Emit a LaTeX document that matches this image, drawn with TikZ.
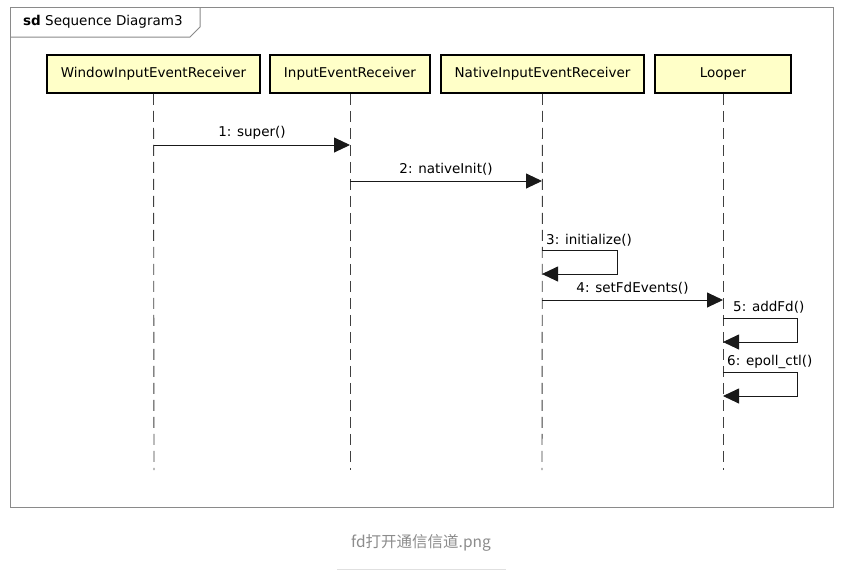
\documentclass[tikz,border=0pt]{standalone}
\usepackage{fontspec}
\setmainfont{DejaVu Sans}
\newfontfamily\cjkfont{Noto Sans CJK SC}
\usetikzlibrary{arrows.meta}
\definecolor{headfill}{HTML}{FFFFC8}
\definecolor{framegray}{HTML}{8A8A8A}
\definecolor{capgray}{HTML}{8C8C8C}
\begin{document}
\begin{tikzpicture}[x=1pt,y=-1pt,
  head/.style={draw=black,line width=1.6pt,fill=headfill,minimum height=38pt,inner sep=0pt,font=\fontsize{13.5}{15}\selectfont},
  lifeline/.style={draw=black!75,line width=0.9pt,dash pattern=on 11pt off 6pt},
  msg/.style={draw=black!90,line width=0.9pt,-{Triangle[length=16pt,width=15pt]}},
  lbl/.style={font=\fontsize{13.5}{15}\selectfont,inner sep=0pt}]
\useasboundingbox (0,0) rectangle (856,576);
\fill[white] (0,0) rectangle (856,576);
% frame
\node[draw=framegray,line width=1pt,minimum width=823pt,minimum height=500pt,anchor=north west,inner sep=0pt] (frame) at (10,7) {};
\draw[draw=framegray,line width=1pt] (10,37) -- (190,37) -- (200,27) -- (200,7);
\node[anchor=west,inner sep=0pt,font=\fontsize{13.5}{15}\selectfont] (title) at (23,22) {\textbf{sd} Sequence Diagram3};
% heads
\node[head,minimum width=213pt] (w) at (153.5,74) {WindowInputEventReceiver};
\node[head,minimum width=160pt] (i) at (350,74) {InputEventReceiver};
\node[head,minimum width=203pt] (n) at (542.5,74) {NativeInputEventReceiver};
\node[head,minimum width=136pt] (l) at (723,74) {Looper};
% lifeline ends
\coordinate (we) at (154,470);
\coordinate (ie) at (350,470);
\coordinate (ne) at (542,470);
\coordinate (le) at (723,470);
\draw[lifeline] (w.south) -- (we);
\draw[lifeline] (i.south) -- (ie);
\draw[lifeline] (n.south) -- (ne);
\draw[lifeline] (l.south) -- (le);
% messages
\coordinate (m1a) at (154,145); \coordinate (m1b) at (350,145);
\draw[msg] (m1a) -- node[lbl,above=5pt] (l1) {1: super()} (m1b);
\coordinate (m2a) at (350,181); \coordinate (m2b) at (542,181);
\draw[msg] (m2a) -- node[lbl,above=5pt] (l2) {2: nativeInit()} (m2b);
\coordinate (m3a) at (542,250); \coordinate (m3b) at (542,274);
\draw[msg] (m3a) -- (617,250) -- (617,274) -- (m3b);
\node[lbl,anchor=west] (l3) at (546,240) {3: initialize()};
\coordinate (m4a) at (542,300); \coordinate (m4b) at (723,300);
\draw[msg] (m4a) -- node[lbl,above=5pt] (l4) {4: setFdEvents()} (m4b);
\coordinate (m5a) at (723,318); \coordinate (m5b) at (723,342);
\draw[msg] (m5a) -- (797,318) -- (797,342) -- (m5b);
\node[lbl,anchor=west] (l5) at (733,307) {5: addFd()};
\coordinate (m6a) at (723,372); \coordinate (m6b) at (723,396);
\draw[msg] (m6a) -- (797,372) -- (797,396) -- (m6b);
\node[lbl,anchor=west] (l6) at (727,362) {6: epoll\_ctl()};
% caption
\node[text=capgray,font=\cjkfont\fontsize{15.5}{17}\selectfont] (cap) at (421,543) {fd打开通信信道.png};
\draw[draw=black!12,line width=0.8pt] (337,569) -- (506,569);
\end{tikzpicture}
\end{document}
